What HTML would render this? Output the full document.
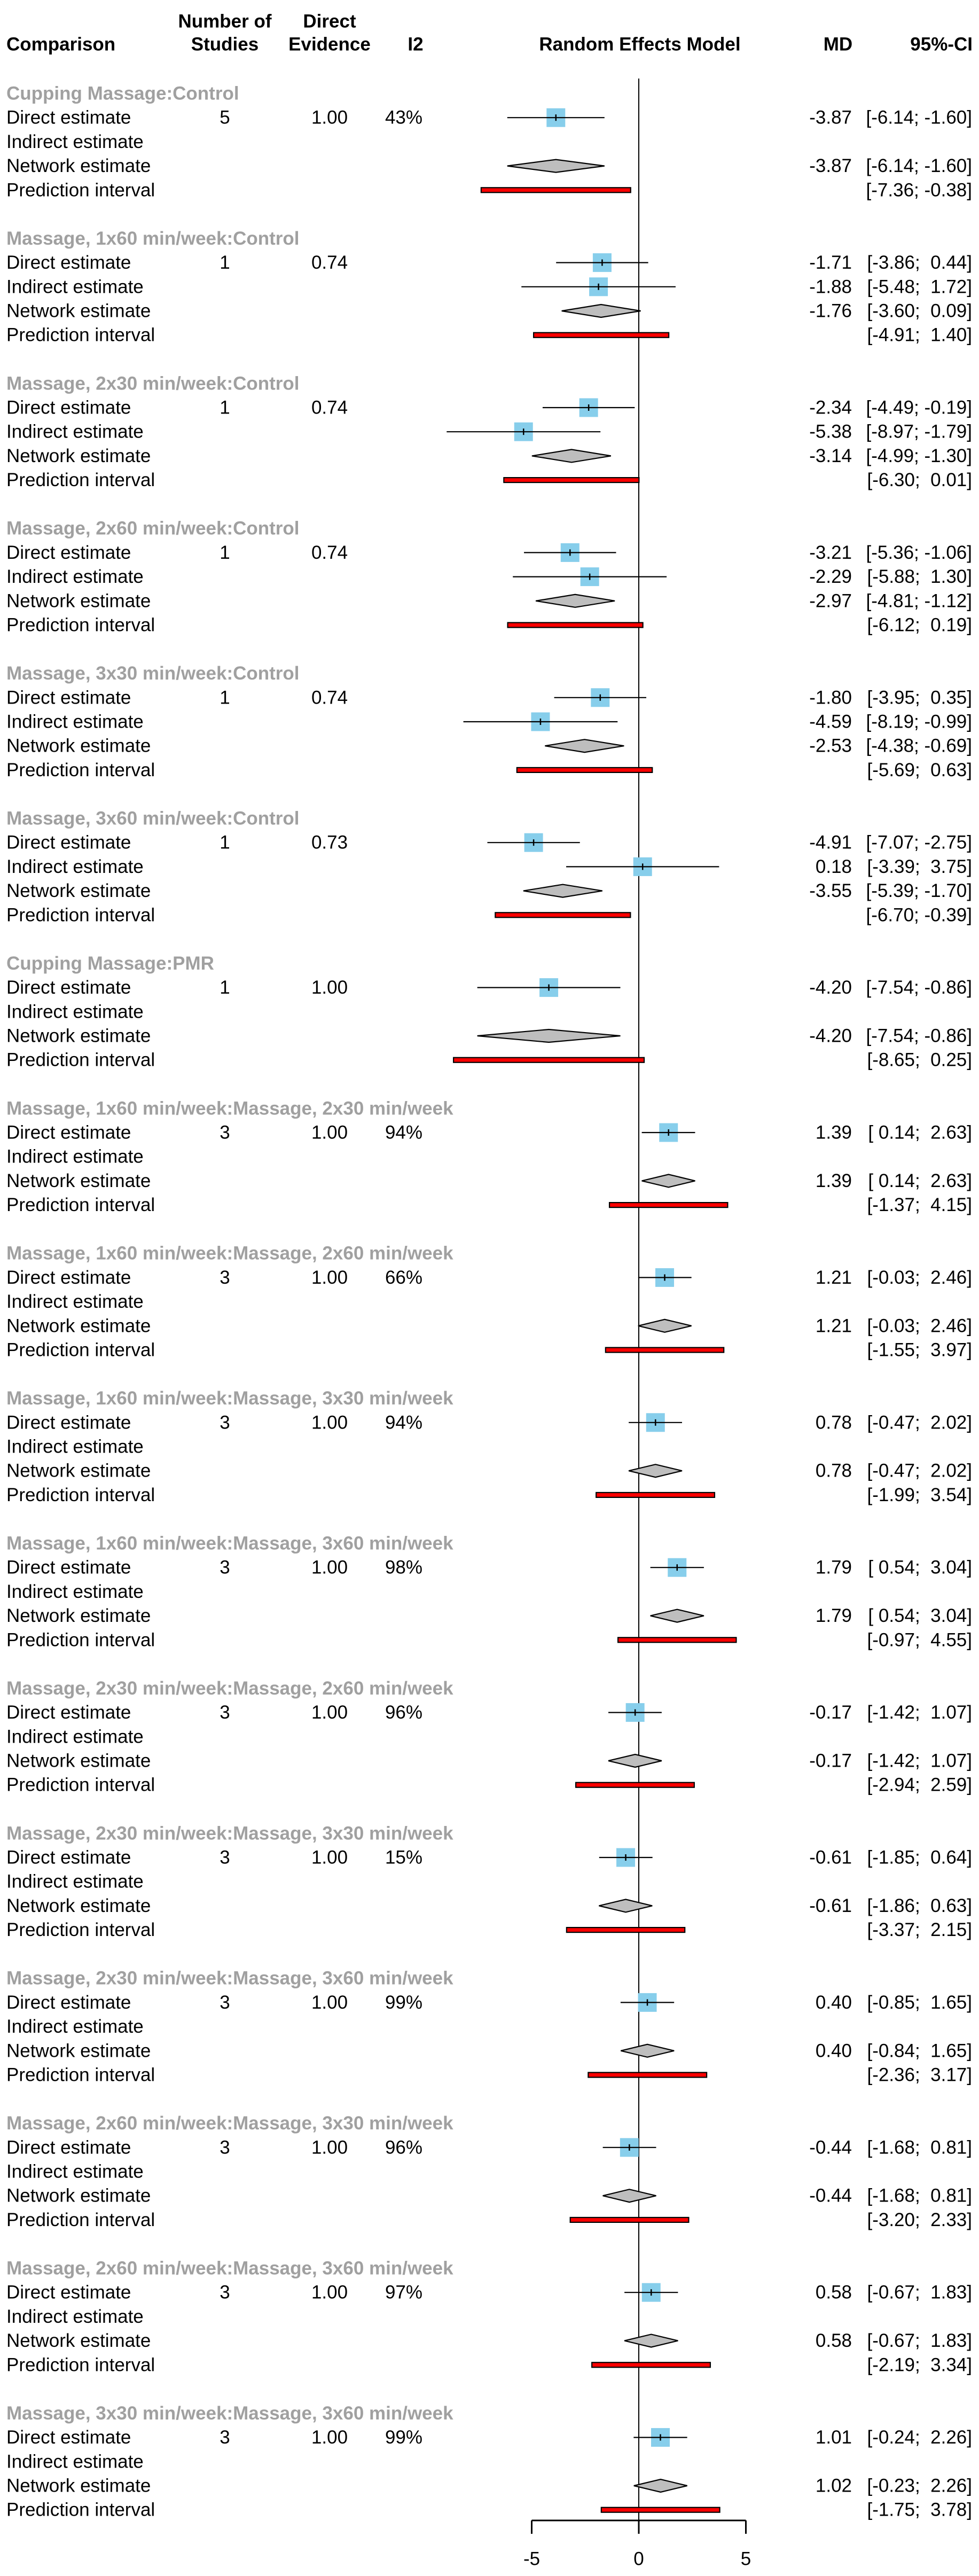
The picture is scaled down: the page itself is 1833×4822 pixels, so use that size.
<!DOCTYPE html>
<html><head><meta charset="utf-8"><style>
html,body{margin:0;padding:0;background:#fff}
svg{display:block}
text{font-family:"Liberation Sans",sans-serif;font-size:35px;fill:#000}
.b{font-weight:bold}
.g{font-weight:bold;fill:#a0a0a0}
</style></head><body>
<svg id="c" width="1833" height="4822" viewBox="0 0 1833 4822" xmlns="http://www.w3.org/2000/svg">
<g>
<text class="b" x="12" y="83" dominant-baseline="central">Comparison</text>
<text class="b" x="421" y="40" text-anchor="middle" dominant-baseline="central">Number of</text>
<text class="b" x="421" y="83" text-anchor="middle" dominant-baseline="central">Studies</text>
<text class="b" x="617" y="40" text-anchor="middle" dominant-baseline="central">Direct</text>
<text class="b" x="617" y="83" text-anchor="middle" dominant-baseline="central">Evidence</text>
<text class="b" x="778" y="83" text-anchor="middle" dominant-baseline="central">I2</text>
<text class="b" x="1198" y="83" text-anchor="middle" dominant-baseline="central">Random Effects Model</text>
<text class="b" x="1569" y="83" text-anchor="middle" dominant-baseline="central">MD</text>
<text class="b" x="1821" y="83" text-anchor="end" dominant-baseline="central">95%-CI</text>
</g>
</svg>
<script>
const titles=["Cupping Massage:Control","Massage, 1x60 min/week:Control","Massage, 2x30 min/week:Control","Massage, 2x60 min/week:Control","Massage, 3x30 min/week:Control","Massage, 3x60 min/week:Control","Cupping Massage:PMR","Massage, 1x60 min/week:Massage, 2x30 min/week","Massage, 1x60 min/week:Massage, 2x60 min/week","Massage, 1x60 min/week:Massage, 3x30 min/week","Massage, 1x60 min/week:Massage, 3x60 min/week","Massage, 2x30 min/week:Massage, 2x60 min/week","Massage, 2x30 min/week:Massage, 3x30 min/week","Massage, 2x30 min/week:Massage, 3x60 min/week","Massage, 2x60 min/week:Massage, 3x30 min/week","Massage, 2x60 min/week:Massage, 3x60 min/week","Massage, 3x30 min/week:Massage, 3x60 min/week"];
const studies=["5","1","1","1","1","1","1","3","3","3","3","3","3","3","3","3","3"];
const evidence=["1.00","0.74","0.74","0.74","0.74","0.73","1.00","1.00","1.00","1.00","1.00","1.00","1.00","1.00","1.00","1.00","1.00"];
const i2=["43%","","","","","","","94%","66%","94%","98%","96%","15%","99%","96%","97%","99%"];
const direct=[[-3.87,-6.14,-1.60],[-1.71,-3.86,0.44],[-2.34,-4.49,-0.19],[-3.21,-5.36,-1.06],[-1.80,-3.95,0.35],[-4.91,-7.07,-2.75],[-4.20,-7.54,-0.86],[1.39,0.14,2.63],[1.21,-0.03,2.46],[0.78,-0.47,2.02],[1.79,0.54,3.04],[-0.17,-1.42,1.07],[-0.61,-1.85,0.64],[0.40,-0.85,1.65],[-0.44,-1.68,0.81],[0.58,-0.67,1.83],[1.01,-0.24,2.26]];
const indirect=[null,[-1.88,-5.48,1.72],[-5.38,-8.97,-1.79],[-2.29,-5.88,1.30],[-4.59,-8.19,-0.99],[0.18,-3.39,3.75],null,null,null,null,null,null,null,null,null,null,null];
const network=[[-3.87,-6.14,-1.60],[-1.76,-3.60,0.09],[-3.14,-4.99,-1.30],[-2.97,-4.81,-1.12],[-2.53,-4.38,-0.69],[-3.55,-5.39,-1.70],[-4.20,-7.54,-0.86],[1.39,0.14,2.63],[1.21,-0.03,2.46],[0.78,-0.47,2.02],[1.79,0.54,3.04],[-0.17,-1.42,1.07],[-0.61,-1.86,0.63],[0.40,-0.84,1.65],[-0.44,-1.68,0.81],[0.58,-0.67,1.83],[1.02,-0.23,2.26]];
const pred=[[-7.36,-0.38],[-4.91,1.40],[-6.30,0.01],[-6.12,0.19],[-5.69,0.63],[-6.70,-0.39],[-8.65,0.25],[-1.37,4.15],[-1.55,3.97],[-1.99,3.54],[-0.97,4.55],[-2.94,2.59],[-3.37,2.15],[-2.36,3.17],[-3.20,2.33],[-2.19,3.34],[-1.75,3.78]];
const ticks=[-5,0,5];

const NS="http://www.w3.org/2000/svg";
const svg=document.getElementById('c');
const X=v=>1196+v*40.1;
const Y0=175,GH=271.4,RH=45.2;
function mk(tag,at,parent){const e=document.createElementNS(NS,tag);for(const k in at)e.setAttribute(k,at[k]);(parent||svg).appendChild(e);return e;}
function txt(s,x,y,anchor,cls,parent){const t=mk('text',{x:x,y:y,'text-anchor':anchor,'dominant-baseline':'central'},parent);if(cls)t.setAttribute('class',cls);t.textContent=s;t.style.whiteSpace='pre';return t;}
const f2=v=>v.toFixed(2);
const pad=v=>{const s=f2(v);return s.length<5?' '+s:s;};
const ci=(l,h)=>'['+pad(l)+'; '+pad(h)+']';

const zl=mk('line',{x1:X(0),x2:X(0),y1:147,y2:4743,stroke:'#000','stroke-width':2});



titles.forEach((t,g)=>{
  const gy=Y0+g*GH;
  const grp=mk('g',{});
  
  
  const tt=txt(t,12,gy,'start','g',grp);
  
  
  const labels=['Direct estimate','Indirect estimate','Network estimate','Prediction interval'];
  labels.forEach((l,k)=>{
    const lt=txt(l,12,gy+RH*(k+1),'start','',grp);
    
    
  });
  const yd=gy+RH,yi=gy+2*RH,yn=gy+3*RH,yp=gy+4*RH;
  const s=txt(studies[g],421,yd,'middle','',grp);
  
  
  const ev=txt(evidence[g],617,yd,'middle','',grp);
  
  
  if(i2[g]){const it=txt(i2[g],756,yd,'middle','',grp);
    
    }
  [[direct[g],yd,'direct'],[indirect[g],yi,'indirect']].forEach(([d,y,nm])=>{
    if(!d)return;
    const sq=mk('rect',{x:X(d[0])-17.5,y:y-17.5,width:35,height:35,fill:'#87ceeb'},grp);
    
    
    const ln=mk('line',{x1:X(d[1]),x2:X(d[2]),y1:y,y2:y,stroke:'#000','stroke-width':2.2},grp);
    
    
    const tk=mk('line',{x1:X(d[0]),x2:X(d[0]),y1:y-6,y2:y+6,stroke:'#000','stroke-width':2.5},grp);
    
    
    const m=txt(f2(d[0]),1595,y,'end','',grp);
    
    
    const c=txt(ci(d[1],d[2]),1820,y,'end','',grp);
    
    
  });
  const n=network[g];
  const dm=mk('polygon',{points:`${X(n[1])},${yn} ${X(n[0])},${yn-12} ${X(n[2])},${yn} ${X(n[0])},${yn+12}`,fill:'#bebebe',stroke:'#000','stroke-width':2.2},grp);
  
  
  const nm=txt(f2(n[0]),1595,yn,'end','',grp);
  
  
  const nc=txt(ci(n[1],n[2]),1820,yn,'end','',grp);
  
  
  const p=pred[g];
  const pb=mk('rect',{x:X(p[0]),y:yp-4.5,width:X(p[1])-X(p[0]),height:9,fill:'#ff0000',stroke:'#000','stroke-width':2.2},grp);
  
  
  const pc=txt(ci(p[0],p[1]),1820,yp,'end','',grp);
  
  
});

const ax=mk('g',{});


const al=mk('line',{x1:X(ticks[0]),x2:X(ticks[ticks.length-1]),y1:4718,y2:4718,stroke:'#000','stroke-width':3},ax);


ticks.forEach(t=>{
  const tl=mk('line',{x1:X(t),x2:X(t),y1:4718,y2:4743,stroke:'#000','stroke-width':3},ax);
  
  
  const lb=txt(String(t),X(t),4790,'middle','',ax);
  
  
});
</script>
</body></html>
